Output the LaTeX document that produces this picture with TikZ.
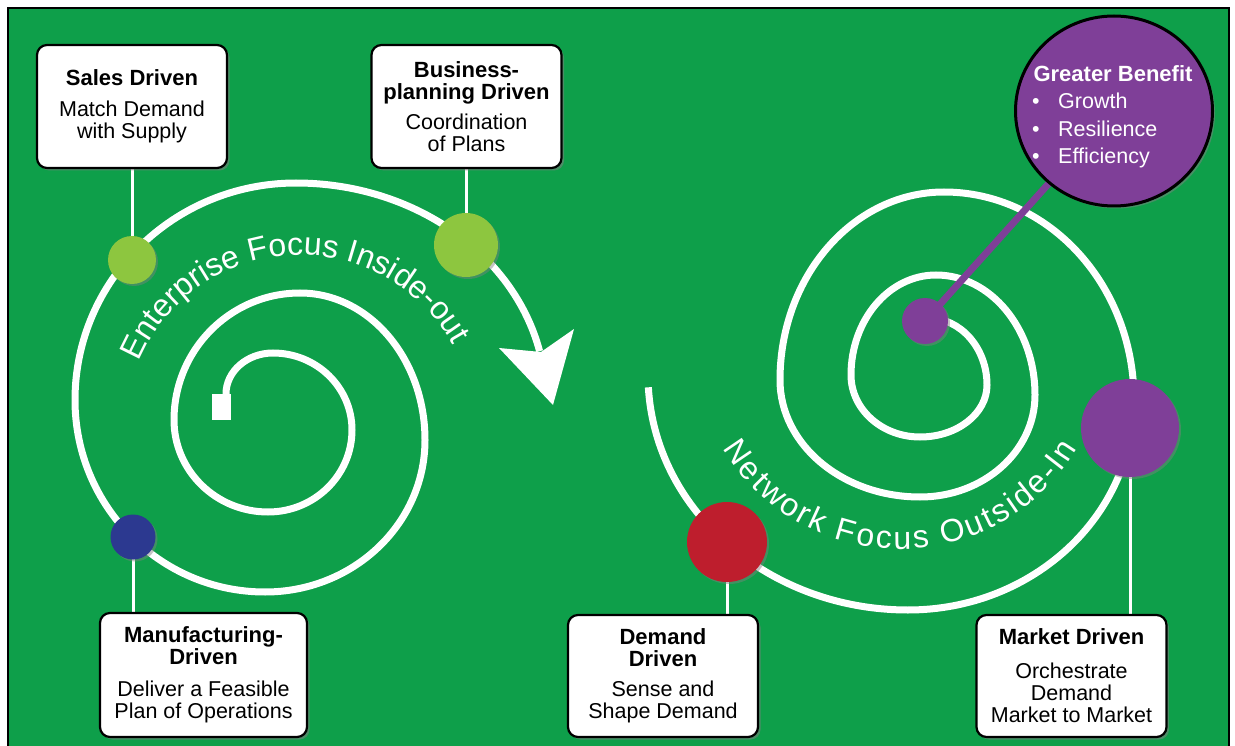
\documentclass[tikz,border=0pt]{standalone}
\usepackage{fontspec}
\setmainfont{Liberation Sans}
\usetikzlibrary{shapes.geometric,shadows,decorations.text}
\definecolor{bggreen}{RGB}{14,159,74}
\definecolor{lgreen}{RGB}{141,198,63}
\definecolor{dblue}{RGB}{44,57,144}
\definecolor{dred}{RGB}{190,30,45}
\definecolor{dpurple}{RGB}{127,63,152}
\pgfdeclarelayer{bg}
\pgfsetlayers{bg,main}
\newcommand\boxttl{\fontsize{22}{22}\selectfont\bfseries}
\newcommand\boxsub{\fontsize{21.5}{22}\selectfont\mdseries}
\newcommand\arcfont{\fontsize{32}{32}\selectfont\color{white}}
\begin{document}
\begin{tikzpicture}[x=1pt,y=1pt,
  box/.style={draw=black, line width=2.2pt, fill=white, rounded corners=10pt,
    drop shadow={shadow xshift=2.5pt, shadow yshift=-2.5pt, opacity=0.55},
    minimum width=190pt, minimum height=123pt, align=center, inner sep=0pt, font=\boxsub},
  dot/.style={circle, inner sep=0pt, draw=none,
    drop shadow={shadow xshift=2pt, shadow yshift=-2pt, opacity=0.45}},
  spiral/.style={draw=white, line width=7pt},
  conn/.style={draw=white, line width=3pt},
  gbt/.style={text=white, inner sep=0pt, font=\fontsize{21.5}{22}\selectfont}]
\useasboundingbox (0,0) rectangle (1235,-746);
\begin{pgfonlayer}{bg}
\fill[white] (0,0) rectangle (1235,-746);
\fill[bggreen] (8,-8) rectangle (1229,-750);
\draw[black, line width=2pt] (8,-750) -- (8,-8) -- (1229,-8) -- (1229,-750);
% left spiral
\draw[spiral] (226,-394) arc[start angle=180, end angle=90, x radius=47, y radius=41]
  arc[start angle=90, end angle=0, x radius=79, y radius=77]
  arc[start angle=0, end angle=-90, x radius=84, y radius=82]
  arc[start angle=-90, end angle=-180, x radius=94, y radius=92]
  arc[start angle=180, end angle=90, x radius=126, y radius=127]
  arc[start angle=90, end angle=0, x radius=125, y radius=147]
  arc[start angle=0, end angle=-90, x radius=160, y radius=152]
  arc[start angle=-90, end angle=-180, x radius=190, y radius=192]
  arc[start angle=180, end angle=90, x radius=221, y radius=217]
  arc[start angle=90, end angle=13, x radius=250, y radius=217];
\fill[white] (553,-405) -- (574,-329) -- (541,-352) -- (499,-348) -- cycle;
% right spiral
\draw[spiral] (928,-318) arc[start angle=90, end angle=0, x radius=59, y radius=67]
  arc[start angle=0, end angle=-90, x radius=67, y radius=52]
  arc[start angle=-90, end angle=-180, x radius=69, y radius=62]
  arc[start angle=180, end angle=90, x radius=85, y radius=100]
  arc[start angle=90, end angle=0, x radius=99, y radius=120]
  arc[start angle=0, end angle=-90, x radius=115, y radius=102]
  arc[start angle=-90, end angle=-180, x radius=140, y radius=117]
  arc[start angle=180, end angle=90, x radius=164, y radius=188]
  arc[start angle=90, end angle=0, x radius=190, y radius=208]
  arc[start angle=0, end angle=-90, x radius=226, y radius=210]
  arc[start angle=-90, end angle=-177, x radius=260, y radius=235];
\end{pgfonlayer}

% arc texts
\path[decorate, decoration={text along path, text align=center,
  text={|\arcfont|Enterprise Focus Inside-out}}]
  (300,-430) ++(170:175) arc[start angle=170, end angle=16, radius=175];
\path[decorate, decoration={text along path, text align=fit to path,
  text={|\arcfont|Network Focus Outside-In}}]
  (900,-342) ++(-149:207) arc[start angle=-149, end angle=-31, radius=207];

% square start
\node[fill=white, minimum width=19pt, minimum height=26pt, inner sep=0pt] (sq) at (221,-407) {};

% boxes
\node[box] (sales) at (132,-106.5) {\boxttl Sales Driven\\[9pt]Match Demand\\with Supply};
\node[box] (business) at (466.5,-106.5) {\boxttl Business-\\\boxttl planning Driven\\[8pt]Coordination\\of Plans};
\node[box, minimum width=207pt, minimum height=124pt] (manu) at (203.5,-675) {\boxttl Manufacturing-\\\boxttl Driven\\[10pt]Deliver a Feasible\\Plan of Operations};
\node[box, minimum height=122pt] (demand) at (663,-676) {\boxttl Demand\\\boxttl Driven\\[8pt]Sense and\\Shape Demand};
\node[box, minimum height=122pt] (market) at (1071.5,-676) {\boxttl Market Driven\\[12pt]Orchestrate\\Demand\\Market to Market};

% dots
\node[dot, fill=lgreen, minimum size=48pt] (sdot) at (132,-260) {};
\node[dot, fill=lgreen, minimum size=64pt] (bdot) at (466,-245) {};
\node[dot, fill=dblue, minimum size=45pt] (mdot) at (133,-537) {};
\node[dot, fill=dred, minimum size=80pt] (rdot) at (727,-542) {};
\node[dot, fill=dpurple, minimum size=98pt] (pbig) at (1130,-428) {};
\node[dot, fill=dpurple, minimum size=46pt] (psmall) at (925,-321) {};

% greater benefit
\node[ellipse, fill=dpurple, draw=black, line width=3pt, minimum width=197pt, minimum height=190pt,
  drop shadow={shadow xshift=2.5pt, shadow yshift=-2.5pt, opacity=0.5}] (gb) at (1114,-111) {};
\node[gbt, font=\fontsize{22}{22}\selectfont\bfseries, anchor=base] (gbtitle) at (1113,-82) {Greater Benefit};
\node[gbt, anchor=base] (bu1) at (1036,-109) {•};
\node[gbt, anchor=base west] (g1) at (1058,-109) {Growth};
\node[gbt, anchor=base] (bu2) at (1036,-136.5) {•};
\node[gbt, anchor=base west] (g2) at (1058,-136.5) {Resilience};
\node[gbt, anchor=base] (bu3) at (1036,-164) {•};
\node[gbt, anchor=base west] (g3) at (1058,-164) {Efficiency};

% connectors
\begin{pgfonlayer}{bg}
\draw[conn] (sdot.center) -- (sdot.center |- sales.south);
\draw[conn] (bdot.center) -- (bdot.center |- business.south);
\draw[conn] (mdot.center) -- (mdot.center |- manu.north);
\draw[conn] (rdot.center) -- (rdot.center |- demand.north);
\draw[conn] (pbig.center) -- (pbig.center |- market.north);
\draw[dpurple, line width=7pt] (psmall.center) -- (gb.center);
\end{pgfonlayer}
\end{tikzpicture}
\end{document}
